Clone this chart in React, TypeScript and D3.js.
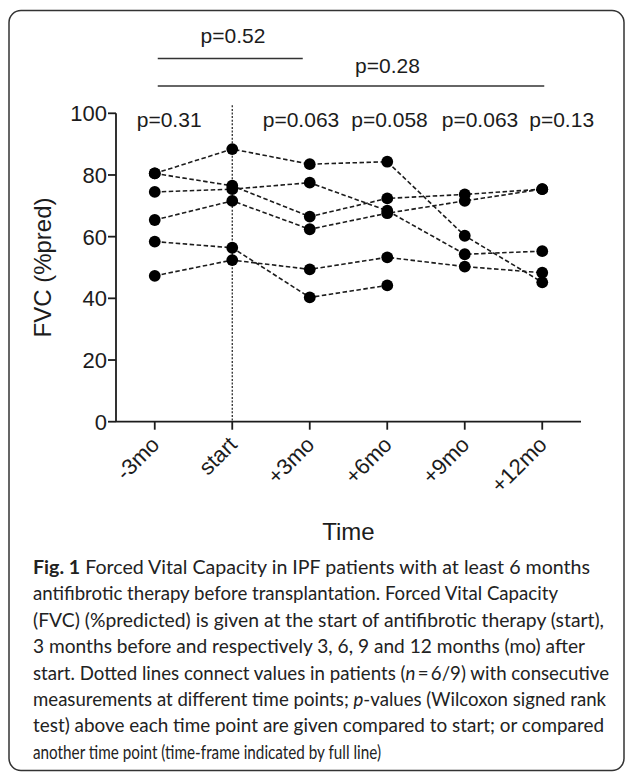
import React from 'react';
import * as d3 from 'd3';

// time points on the x axis
const timePoints = ['-3mo', 'start', '+3mo', '+6mo', '+9mo', '+12mo'];

// FVC (%pred) per patient, one value per time point (null = not measured)
const patientA = [80.5, 88.4, 83.5, 84.3, 60.3, 45.2];
const patientB = [80.5, 76.5, 66.5, 72.4, 73.7, 75.4];
const patientC = [74.5, 75.4, 77.5, 68.4, 54.3, 55.3];
const patientD = [65.4, 71.6, 62.4, 67.6, 71.6, 75.4];
const patientE = [58.4, 56.4, 40.3, 44.2, null, null];
const patientF = [47.3, 52.4, 49.4, 53.3, 50.3, 48.3];

const yTicks = [0, 20, 40, 60, 80, 100];

// p-values above each time point (compared to start)
const pointPValues = [
  { at: '-3mo', text: 'p=0.31' },
  { at: '+3mo', text: 'p=0.063' },
  { at: '+6mo', text: 'p=0.058' },
  { at: '+9mo', text: 'p=0.063' },
  { at: '+12mo', text: 'p=0.13' },
];
// p-values over a time frame (full lines)
const framePValues = [
  { from: '-3mo', to: '+3mo', text: 'p=0.52' },
  { from: '-3mo', to: '+12mo', text: 'p=0.28' },
];

type Seg = { t: string; b?: boolean; i?: boolean };
const captionLines: Seg[][] = [
  [{ t: 'Fig. 1', b: true }, { t: ' Forced Vital Capacity in IPF patients with at least 6 months' }],
  [{ t: 'antifibrotic therapy before transplantation. Forced Vital Capacity' }],
  [{ t: '(FVC) (%predicted) is given at the start of antifibrotic therapy (start),' }],
  [{ t: '3 months before and respectively 3, 6, 9 and 12 months (mo) after' }],
  [{ t: 'start. Dotted lines connect values in patients (' }, { t: 'n', i: true }, { t: '\u2009=\u20096/9) with consecutive' }],
  [{ t: 'measurements at different time points; ' }, { t: 'p', i: true }, { t: '-values (Wilcoxon signed rank' }],
  [{ t: 'test) above each time point are given compared to start; or compared' }],
  [{ t: 'another time point (time-frame indicated by full line)' }],
];
const captionEnds = [590, 558, 604, 585, 609, 606, 604, 381];

const W = 627;
const H = 772;
const ink = '#1c1c1c';
const chartFont = 'Arial, Arimo, "Liberation Sans", Helvetica, sans-serif';

const App: React.FC = () => {
  const patients = [patientA, patientB, patientC, patientD, patientE, patientF];

  const x = d3.scalePoint<string>().domain(timePoints).range([116, 581]).padding(0.5);
  const y = d3.scaleLinear().domain([0, 100]).range([421.7, 113.3]);

  const line = d3
    .line<number | null>()
    .defined((d) => d !== null)
    .x((_, i) => x(timePoints[i]) as number)
    .y((d) => y(d as number));

  const pOffsets = [-18, -47, -36, -23, -13];
  const x0 = 116;
  const x1 = 581;
  const y0 = y(0);

  return (
    <div style={{ position: 'absolute', left: 0, top: 0 }}>
      <svg width={W} height={H} style={{ display: 'block', background: '#fff' }}>
        <rect x={9} y={10.5} width={615} height={760} rx={12} fill="none" stroke="#333" strokeWidth={1.5} />

        {/* time-frame p-values */}
        {framePValues.map((f, i) => {
          const a = (x(f.from) as number) + 3;
          const b = (x(f.to) as number) - (i === 0 ? 7 : -2);
          const ly = i === 0 ? 58.5 : 86;
          return (
            <g key={f.text}>
              <line x1={a} x2={b} y1={ly} y2={ly} stroke="#333" strokeWidth={1.5} />
              <text
                x={i === 0 ? 233 : 387.5}
                y={i === 0 ? 43 : 73}
                textAnchor="middle"
                style={{ fontFamily: chartFont }}
                fontSize={21}
                fill={ink}
              >
                {f.text}
              </text>
            </g>
          );
        })}

        {pointPValues.map((p, i) => (
          <text
            key={i}
            x={(x(p.at) as number) + pOffsets[i]}
            y={126.5}
            style={{ fontFamily: chartFont }}
            fontSize={21}
            fill={ink}
          >
            {p.text}
          </text>
        ))}

        {/* start marker */}
        <line
          x1={x('start')}
          x2={x('start')}
          y1={y(100) - 8}
          y2={y0}
          stroke={ink}
          strokeWidth={1.2}
          strokeDasharray="2,1.6"
        />

        {/* axes */}
        <line x1={x0} x2={x0} y1={y(100)} y2={y0} stroke={ink} strokeWidth={1.8} />
        <line x1={x0} x2={x1} y1={y0} y2={y0} stroke={ink} strokeWidth={1.8} />
        {yTicks.map((t) => (
          <g key={t}>
            <line x1={x0 - 8} x2={x0} y1={y(t)} y2={y(t)} stroke={ink} strokeWidth={1.8} />
            <text
              x={x0 - 9}
              y={y(t)}
              dy="0.36em"
              textAnchor="end"
              style={{ fontFamily: chartFont }}
              fontSize={22}
              fill={ink}
            >
              {t}
            </text>
          </g>
        ))}
        {timePoints.map((t) => (
          <g key={t}>
            <line x1={x(t)} x2={x(t)} y1={y0} y2={y0 + 8} stroke={ink} strokeWidth={1.8} />
            <text
              transform={`translate(${(x(t) as number) + 6},446) rotate(-45)`}
              textAnchor="end"
              style={{ fontFamily: chartFont }}
              fontSize={22}
              fill={ink}
            >
              {t}
            </text>
          </g>
        ))}

        <text
          transform={`translate(51,${(y(0) + y(100)) / 2}) rotate(-90)`}
          textAnchor="middle"
          style={{ fontFamily: chartFont }}
          fontSize={24}
          fill={ink}
        >
          FVC (%pred)
        </text>
        <text
          x={(x0 + x1) / 2}
          y={540}
          textAnchor="middle"
          style={{ fontFamily: chartFont }}
          fontSize={24}
          fill={ink}
        >
          Time
        </text>

        {/* patient trajectories */}
        {patients.map((p, i) => (
          <path
            key={i}
            d={line(p) || ''}
            fill="none"
            stroke={ink}
            strokeWidth={1.6}
            strokeDasharray="4.5,2.5"
          />
        ))}
        {patients.map((p, i) =>
          p.map((v, j) =>
            v === null ? null : (
              <circle key={`${i}-${j}`} cx={x(timePoints[j])} cy={y(v)} r={5.9} fill="#000" />
            )
          )
        )}

        {/* caption */}
        {captionLines.map((segs, i) => (
          <text
            key={i}
            x={33}
            y={574 + i * 26.4}
            style={{ fontFamily: 'Lato, "Open Sans", sans-serif' }}
            fontSize={19.5}
            fill="#222"
            textLength={captionEnds[i] - 33}
            lengthAdjust="spacingAndGlyphs"
          >
            {segs.map((s, k) => (
              <tspan key={k} fontWeight={s.b ? 700 : 400} fontStyle={s.i ? 'italic' : 'normal'}>
                {s.t}
              </tspan>
            ))}
          </text>
        ))}
      </svg>
    </div>
  );
};

export default App;
